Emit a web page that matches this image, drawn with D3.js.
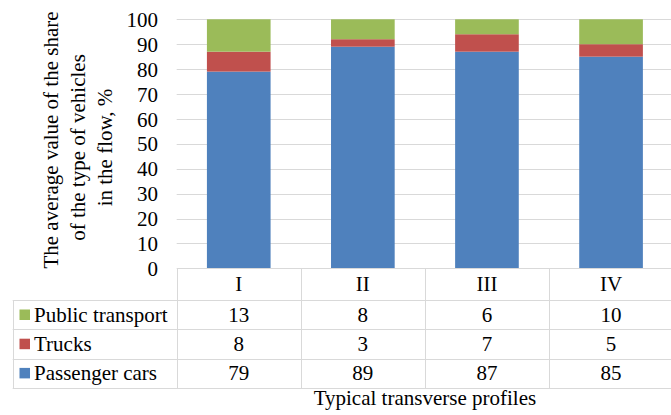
<!DOCTYPE html>
<html>
<head>
<meta charset="utf-8">
<script src="https://cdn.jsdelivr.net/npm/d3@7"></script>
<style>
  html, body { margin: 0; padding: 0; background: #fff; }
  svg text { font-family: "Liberation Serif", "Times New Roman", Times, "DejaVu Serif", serif; }
</style>
</head>
<body>
<svg id="chart" width="671" height="415"></svg>
<script>
// Typical transverse profiles and the share of each vehicle type, %
const categories = ["I", "II", "III", "IV"];
const passengerCars = [79, 89, 87, 85];
const trucks = [8, 3, 7, 5];
const publicTransport = [13, 8, 6, 10];
const yTicks = [0, 10, 20, 30, 40, 50, 60, 70, 80, 90, 100];

// Stack order from the bottom up
const seriesNames = ["Passenger cars", "Trucks", "Public transport"];
const seriesValues = [passengerCars, trucks, publicTransport];
const seriesColors = ["#4f81bd", "#c0504d", "#9bbb59"];
// Data-table rows are listed top to bottom
const tableOrder = [2, 1, 0];

const yTitleLines = ["The average value of the share", "of the type of vehicles", "in the flow, %"];
const xTitle = "Typical transverse profiles";

const svg = d3.select("#chart");
const fontSize = 21;
const gridColor = "#d9d9d9";

const plotLeft = 176.7, plotRight = 673.1;
const plotTop = 19.3, plotBottom = 268.3;

const x = d3.scaleBand().domain(categories).range([plotLeft, plotRight])
  .paddingInner(0.487).paddingOuter(0.2435);
const xCell = d3.scaleBand().domain(categories).range([plotLeft, plotRight]);
const y = d3.scaleLinear().domain([0, 100]).range([plotBottom, plotTop]);

// Horizontal gridlines
svg.append("g").selectAll("line").data(yTicks.filter(d => d > 0)).join("line")
  .attr("x1", plotLeft).attr("x2", 671)
  .attr("y1", d => Math.round(y(d)) + 0.5).attr("y2", d => Math.round(y(d)) + 0.5)
  .attr("stroke", gridColor).attr("stroke-width", 1);

// Y axis tick labels
const yAxis = d3.axisLeft(y).tickValues(yTicks).tickSize(0).tickPadding(0);
const yAxisG = svg.append("g").attr("transform", "translate(158,0)").call(yAxis);
yAxisG.attr("font-family", null).attr("font-size", null);
yAxisG.select(".domain").remove();
yAxisG.selectAll("text")
  .attr("font-size", fontSize).attr("fill", "#000")
  .attr("dy", "0.34em");

// Stacked bars
const rows = categories.map((c, i) => {
  const r = { cat: c };
  seriesNames.forEach((s, k) => { r[s] = seriesValues[k][i]; });
  return r;
});
const stacked = d3.stack().keys(seriesNames)(rows);
svg.append("g").selectAll("g").data(stacked).join("g")
  .attr("fill", (d, i) => seriesColors[i])
  .selectAll("rect").data(d => d).join("rect")
  .attr("x", d => x(d.data.cat))
  .attr("width", x.bandwidth())
  .attr("y", d => y(d[1]))
  .attr("height", d => y(d[0]) - y(d[1]));

// Data table under the plot
const headerTop = plotBottom;
const rowEdges = [300.3, 329.3, 358.7, 387.7];
const tableLeft = 12.7;
const table = svg.append("g").attr("stroke", gridColor).attr("stroke-width", 1).attr("fill", "none");
const hLine = (yy, x1) => table.append("line")
  .attr("x1", x1).attr("x2", 671)
  .attr("y1", Math.round(yy) + 0.5).attr("y2", Math.round(yy) + 0.5);
hLine(headerTop, plotLeft);
rowEdges.forEach(e => hLine(e, tableLeft));
const vLine = (xx, y1, y2) => table.append("line")
  .attr("x1", Math.round(xx) + 0.5).attr("x2", Math.round(xx) + 0.5)
  .attr("y1", Math.round(y1) + 0.5).attr("y2", Math.round(y2) + 0.5);
vLine(tableLeft, rowEdges[0], rowEdges[3]);
categories.forEach(c => vLine(xCell(c), headerTop, rowEdges[3]));

const textG = svg.append("g")
  .attr("font-size", fontSize).attr("fill", "#000");

// Category header
textG.selectAll("text.cat").data(categories).join("text")
  .attr("class", "cat")
  .attr("x", d => xCell(d) + xCell.bandwidth() / 2)
  .attr("y", (headerTop + rowEdges[0]) / 2)
  .attr("dy", "0.34em")
  .attr("text-anchor", "middle")
  .text(d => d);

// Legend keys, series names and values
tableOrder.forEach((k, r) => {
  const cy = (rowEdges[r] + rowEdges[r + 1]) / 2;
  svg.append("rect")
    .attr("x", 19.5).attr("y", cy - 5.3)
    .attr("width", 10.5).attr("height", 10.5)
    .attr("fill", seriesColors[k]);
  textG.append("text")
    .attr("x", 34).attr("y", cy).attr("dy", "0.34em")
    .text(seriesNames[k]);
  textG.selectAll(null).data(seriesValues[k]).join("text")
    .attr("x", (d, i) => xCell(categories[i]) + xCell.bandwidth() / 2)
    .attr("y", cy).attr("dy", "0.34em")
    .attr("text-anchor", "middle")
    .text(d => d);
});

// Axis titles
textG.append("text")
  .attr("x", (plotLeft + plotRight) / 2).attr("y", 405)
  .attr("text-anchor", "middle")
  .text(xTitle);

const yTitleX = [58, 85, 112];
const yTitleY = [140, 147.5, 147.5];
yTitleLines.forEach((line, i) => {
  textG.append("text")
    .attr("transform", `translate(${yTitleX[i]},${yTitleY[i]}) rotate(-90)`)
    .attr("text-anchor", "middle")
    .text(line);
});
</script>
</body>
</html>
